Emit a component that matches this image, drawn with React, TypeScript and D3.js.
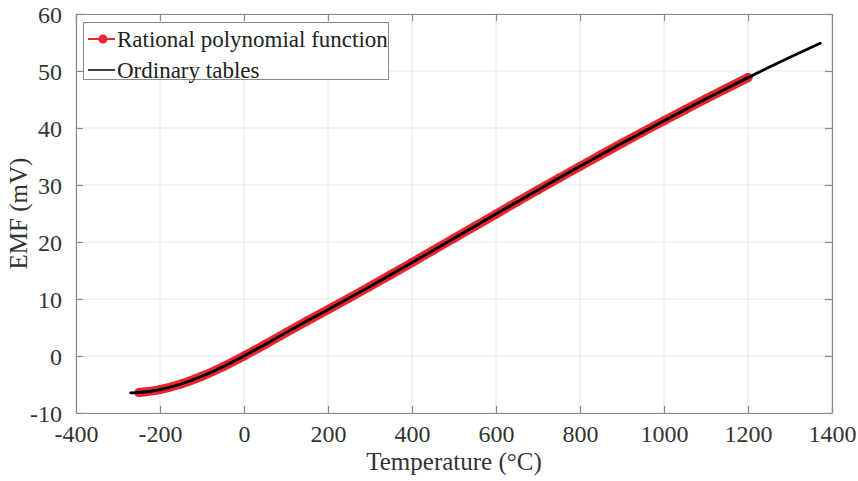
import React, { useEffect, useRef } from "react";
import * as d3 from "d3";

// Ordinary tables (type K reference, mV)
const tableTemps = [-270, -250, -200, -150, -100, -50, 0, 50, 100, 150, 200, 250, 300, 350, 400, 450, 500, 550, 600, 650, 700, 750, 800, 850, 900, 950, 1000, 1050, 1100, 1150, 1200, 1250, 1300, 1350, 1372];
const tableEmf = [-6.458, -6.404, -5.891, -4.913, -3.554, -1.889, 0, 2.023, 4.096, 6.138, 8.138, 10.153, 12.209, 14.293, 16.397, 18.516, 20.644, 22.776, 24.905, 27.025, 29.129, 31.213, 33.275, 35.313, 37.326, 39.314, 41.276, 43.211, 45.119, 46.995, 48.838, 50.644, 52.41, 54.138, 54.886];

// Rational polynomial function
const fitTemps = [-250, -200, -150, -100, -50, 0, 50, 100, 150, 200, 250, 300, 350, 400, 450, 500, 550, 600, 650, 700, 750, 800, 850, 900, 950, 1000, 1050, 1100, 1150, 1200];
const fitEmf = [-6.404, -5.891, -4.913, -3.554, -1.889, 0, 2.023, 4.096, 6.138, 8.138, 10.153, 12.209, 14.293, 16.397, 18.516, 20.644, 22.776, 24.905, 27.025, 29.129, 31.213, 33.275, 35.313, 37.326, 39.314, 41.276, 43.211, 45.119, 46.995, 48.838];

const xTicks = [-400, -200, 0, 200, 400, 600, 800, 1000, 1200, 1400];
const yTicks = [-10, 0, 10, 20, 30, 40, 50, 60];

const legendNames = ["Rational polynomial function", "Ordinary tables"];

const RED = "#e8262c";

const EmfChart = () => {
  const chartRef = useRef(null);

  useEffect(() => {
    const svg = d3.select(chartRef.current);
    const width = 858;
    const height = 481;
    const margin = { top: 14, right: 26, bottom: 68, left: 76 };
    const font = "'Liberation Serif', 'Times New Roman', serif";

    svg.selectAll("*").remove();

    const x = d3.scaleLinear().domain([-400, 1400]).range([margin.left, width - margin.right]);
    const y = d3.scaleLinear().domain([-10, 60]).range([height - margin.bottom, margin.top]);
    const plain = (d) => String(d); // hyphen minus, no thousands separator

    // grid
    svg
      .append("g")
      .selectAll("line")
      .data(xTicks)
      .join("line")
      .attr("x1", (d) => x(d))
      .attr("x2", (d) => x(d))
      .attr("y1", margin.top)
      .attr("y2", height - margin.bottom)
      .attr("stroke", "#e6e6e6")
      .attr("stroke-width", 1);
    svg
      .append("g")
      .selectAll("line")
      .data(yTicks)
      .join("line")
      .attr("x1", margin.left)
      .attr("x2", width - margin.right)
      .attr("y1", (d) => y(d))
      .attr("y2", (d) => y(d))
      .attr("stroke", "#e6e6e6")
      .attr("stroke-width", 1);

    // axes box with inward ticks
    const axisColor = "#8a8a8a";
    const bottomAxis = svg
      .append("g")
      .attr("transform", `translate(0, ${height - margin.bottom})`)
      .call(d3.axisBottom(x).tickValues(xTicks).tickSizeInner(-7).tickSizeOuter(0).tickPadding(12).tickFormat(plain));
    const topAxis = svg
      .append("g")
      .attr("transform", `translate(0, ${margin.top})`)
      .call(d3.axisTop(x).tickValues(xTicks).tickSizeInner(-7).tickSizeOuter(0).tickFormat(() => ""));
    const leftAxis = svg
      .append("g")
      .attr("transform", `translate(${margin.left}, 0)`)
      .call(d3.axisLeft(y).tickValues(yTicks).tickSizeInner(-7).tickSizeOuter(0).tickPadding(14).tickFormat(plain));
    const rightAxis = svg
      .append("g")
      .attr("transform", `translate(${width - margin.right}, 0)`)
      .call(d3.axisRight(y).tickValues(yTicks).tickSizeInner(-7).tickSizeOuter(0).tickFormat(() => ""));

    [bottomAxis, topAxis, leftAxis, rightAxis].forEach((g) => {
      g.selectAll("path, line").attr("stroke", axisColor).attr("stroke-width", 1.2);
      g.selectAll("text").style("font-family", font).style("font-size", "24px").attr("fill", "#333");
    });
    bottomAxis.selectAll("text").attr("dy", "0.71em");
    leftAxis.selectAll("text").attr("dy", "0.36em");

    const line = d3
      .line()
      .x((d) => x(d[0]))
      .y((d) => y(d[1]))
      .curve(d3.curveMonotoneX);

    const fitPts = fitTemps.map((t, i) => [t, fitEmf[i]]);
    const tablePts = tableTemps.map((t, i) => [t, tableEmf[i]]);

    // rational polynomial (thick red with markers)
    svg
      .append("path")
      .datum(fitPts)
      .attr("d", line)
      .attr("fill", "none")
      .attr("stroke", RED)
      .attr("stroke-width", 9)
      .attr("stroke-linecap", "round")
      .attr("stroke-linejoin", "round");
    svg
      .append("g")
      .selectAll("circle")
      .data(fitPts)
      .join("circle")
      .attr("cx", (d) => x(d[0]))
      .attr("cy", (d) => y(d[1]))
      .attr("r", 4.5)
      .attr("fill", RED);

    // ordinary tables
    svg
      .append("path")
      .datum(tablePts)
      .attr("d", line)
      .attr("fill", "none")
      .attr("stroke", "#000")
      .attr("stroke-width", 2.8)
      .attr("stroke-linecap", "round");

    // legend
    const legend = svg.append("g");
    legend
      .append("rect")
      .attr("x", 83.5)
      .attr("y", 22.5)
      .attr("width", 305)
      .attr("height", 57)
      .attr("fill", "#fff")
      .attr("stroke", axisColor)
      .attr("stroke-width", 1);
    const rowY = [39, 70];
    legend
      .append("line")
      .attr("x1", 88)
      .attr("x2", 115)
      .attr("y1", rowY[0])
      .attr("y2", rowY[0])
      .attr("stroke", RED)
      .attr("stroke-width", 2);
    legend
      .append("circle")
      .attr("cx", 103)
      .attr("cy", rowY[0])
      .attr("r", 4.5)
      .attr("fill", RED);
    legend
      .append("line")
      .attr("x1", 88)
      .attr("x2", 115)
      .attr("y1", rowY[1])
      .attr("y2", rowY[1])
      .attr("stroke", "#000")
      .attr("stroke-width", 1.5);
    legend
      .selectAll("text")
      .data(legendNames)
      .join("text")
      .attr("x", 117)
      .attr("y", (d, i) => rowY[i] + 8)
      .style("font-family", font)
      .style("font-size", "23px")
      .attr("fill", "#222")
      .text((d) => d);

    // axis labels
    svg
      .append("text")
      .attr("x", (margin.left + width - margin.right) / 2)
      .attr("y", 470)
      .attr("text-anchor", "middle")
      .style("font-family", font)
      .style("font-size", "25px")
      .attr("fill", "#333")
      .text("Temperature (°C)");
    svg
      .append("text")
      .attr("transform", `translate(27, ${(margin.top + height - margin.bottom) / 2}) rotate(-90)`)
      .attr("text-anchor", "middle")
      .style("font-family", font)
      .style("font-size", "25px")
      .attr("fill", "#333")
      .text("EMF (mV)");
  }, []);

  return <svg ref={chartRef} width="858" height="481" style={{ display: "block" }}></svg>;
};

export default function App() {
  return (
    <div style={{ position: "absolute", left: 0, top: 0, background: "#fff" }}>
      <EmfChart />
    </div>
  );
}
